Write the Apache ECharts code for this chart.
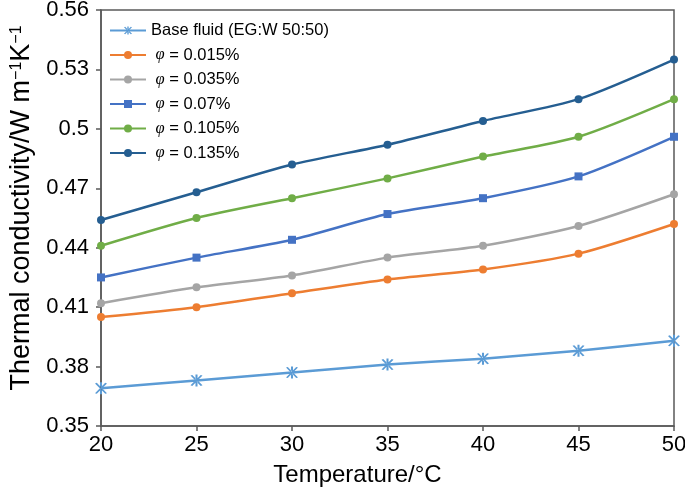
<!DOCTYPE html>
<html>
<head>
<meta charset="utf-8">
<script src="https://cdn.jsdelivr.net/npm/echarts@6/dist/echarts.min.js"></script>
<style>
  html, body { margin: 0; padding: 0; background: #fff; }
  #chart { width: 685px; height: 490px; }
</style>
</head>
<body>
<div id="chart"></div>
<script>
// temperatures (°C)
const temps = [20, 25, 30, 35, 40, 45, 50];

// thermal conductivity values, W m-1 K-1
const baseFluid = [0.369, 0.373, 0.377, 0.381, 0.384, 0.388, 0.393];
const phi0015 = [0.405, 0.410, 0.417, 0.424, 0.429, 0.437, 0.452];
const phi0035 = [0.412, 0.420, 0.426, 0.435, 0.441, 0.451, 0.467];
const phi007 = [0.425, 0.435, 0.444, 0.457, 0.465, 0.476, 0.496];
const phi0105 = [0.441, 0.455, 0.465, 0.475, 0.486, 0.496, 0.515];
const phi0135 = [0.454, 0.468, 0.482, 0.492, 0.504, 0.515, 0.535];

const seriesNames = ['Base fluid (EG:W 50:50)', ' φ = 0.015%', ' φ = 0.035%', ' φ = 0.07%', ' φ = 0.105%', ' φ = 0.135%'];
const seriesColors = ['#5b9bd5', '#ed7d31', '#a5a5a5', '#4472c4', '#70ad47', '#255e91'];

// asterisk marker: vertical bar + two diagonals
const asterisk = 'path://M-0.5,-5 L0.5,-5 L0.5,5 L-0.5,5 Z ' +
    'M2.067,4.58 L2.933,4.08 L-2.067,-4.58 L-2.933,-4.08 Z ' +
    'M2.067,-4.58 L2.933,-4.08 L-2.067,4.58 L-2.933,4.08 Z';

const font = "'Liberation Sans', Arial, Helvetica, sans-serif";

function makeSeries(name, values, color, symbol, size) {
    return {
        name: name,
        type: 'line',
        data: temps.map((t, i) => [t, values[i]]),
        smooth: 0.25,
        symbol: symbol,
        symbolSize: size,
        showAllSymbol: true,
        lineStyle: { color: color, width: 2.5 },
        itemStyle: { color: color },
        emphasis: { disabled: true }
    };
}

const chart = echarts.init(document.getElementById('chart'));

chart.setOption({
    animation: false,
    backgroundColor: '#fff',
    textStyle: { fontFamily: font },
    grid: {
        left: 101, right: 11, top: 10, bottom: 64,
        outerBoundsMode: 'none',
        show: true, borderColor: '#595959', borderWidth: 1.5
    },
    legend: {
        orient: 'vertical',
        left: 104,
        top: 17,
        itemWidth: 36,
        itemHeight: 10,
        itemGap: 7.5,
        data: seriesNames,
        textStyle: {
            fontSize: 16.5,
            color: '#000',
            fontFamily: font,
            rich: {
                i: { fontSize: 16.5, fontStyle: 'italic', fontFamily: "'Liberation Serif', 'DejaVu Serif', serif", color: '#000' }
            }
        },
        formatter: function (name) {
            return name.replace('φ', '{i|φ}');
        }
    },
    xAxis: {
        type: 'value',
        min: 20,
        max: 50,
        interval: 5,
        name: 'Temperature/°C',
        nameLocation: 'middle',
        nameGap: 37,
        nameTextStyle: { fontSize: 24, color: '#000', fontFamily: font, padding: [0, 60, 0, 0] },
        axisLine: { lineStyle: { color: '#595959', width: 1.5 } },
        axisTick: { length: 5, lineStyle: { color: '#595959', width: 1.5 } },
        axisLabel: { fontSize: 22, color: '#000', margin: 8, fontFamily: font },
        splitLine: { show: false }
    },
    yAxis: {
        type: 'value',
        min: 0.35,
        max: 0.56,
        interval: 0.03,
        name: 'Thermal conductivity/W m{s|−1}K{s|−1}',
        nameLocation: 'middle',
        nameGap: 57,
        nameTextStyle: {
            fontSize: 27,
            color: '#000',
            fontFamily: font,
            padding: [0, 0, 0, 20],
            rich: {
                s: { fontSize: 16, color: '#000', fontFamily: font, verticalAlign: 'top', padding: [0, 0, 10, 0] }
            }
        },
        axisLine: { lineStyle: { color: '#595959', width: 1.5 } },
        axisTick: { length: 5, lineStyle: { color: '#595959', width: 1.5 } },
        axisLabel: {
            fontSize: 22,
            color: '#000',
            margin: 12,
            fontFamily: font,
            formatter: function (v) { return String(Math.round(v * 100) / 100); }
        },
        splitLine: { show: false }
    },
    series: [
        makeSeries(seriesNames[0], baseFluid, seriesColors[0], asterisk, 12),
        makeSeries(seriesNames[1], phi0015, seriesColors[1], 'circle', 8),
        makeSeries(seriesNames[2], phi0035, seriesColors[2], 'circle', 8),
        makeSeries(seriesNames[3], phi007, seriesColors[3], 'rect', 8),
        makeSeries(seriesNames[4], phi0105, seriesColors[4], 'circle', 8),
        makeSeries(seriesNames[5], phi0135, seriesColors[5], 'circle', 8)
    ]
});
</script>
</body>
</html>
